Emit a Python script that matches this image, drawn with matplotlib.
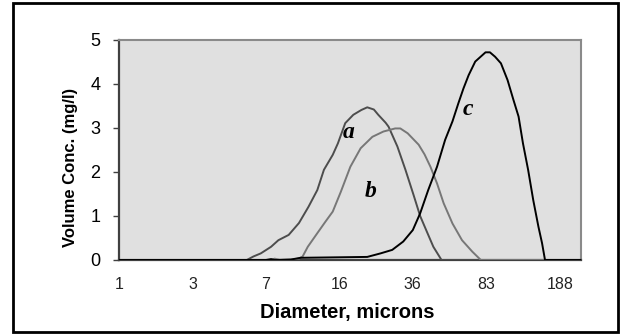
import matplotlib; matplotlib.use('Agg')
import matplotlib.pyplot as plt
from matplotlib.patches import Rectangle

# size classes: x in "label step" units (0 -> 1 micron, 6 -> 188 microns)
TICK_POS = [0, 1, 2, 3, 4, 5, 6]
TICK_LABELS = ['1', '3', '7', '16', '36', '83', '188']

# curve a
a_x = [0.00, 1.74, 1.83, 1.93, 2.07, 2.17, 2.31, 2.45, 2.58, 2.70, 2.79, 2.91,
       2.98, 3.08, 3.19, 3.30, 3.38, 3.47, 3.53, 3.63, 3.67, 3.79, 3.90, 4.01,
       4.10, 4.20, 4.28, 4.38, 4.39, 6.29]
a_y = [0.00, 0.00, 0.08, 0.15, 0.30, 0.45, 0.57, 0.84, 1.21, 1.59, 2.05, 2.39,
       2.65, 3.11, 3.30, 3.41, 3.47, 3.42, 3.30, 3.12, 3.03, 2.58, 2.05, 1.48,
       1.00, 0.61, 0.30, 0.03, 0.00, 0.00]

# curve b
b_x = [0.00, 2.07, 2.12, 2.19, 2.34, 2.45, 2.50, 2.57, 2.70, 2.81, 2.91, 3.02,
       3.15, 3.29, 3.45, 3.60, 3.76, 3.83, 3.93, 4.08, 4.16, 4.24, 4.33, 4.42,
       4.54, 4.67, 4.81, 4.92, 4.93, 6.29]
b_y = [0.00, 0.00, 0.03, 0.00, 0.01, 0.03, 0.08, 0.30, 0.61, 0.87, 1.10, 1.55,
       2.12, 2.54, 2.80, 2.92, 2.99, 2.99, 2.88, 2.62, 2.40, 2.12, 1.74, 1.29,
       0.83, 0.45, 0.19, 0.01, 0.00, 0.00]

# curve c
c_x = [0.00, 2.00, 2.07, 2.12, 2.34, 2.47, 3.38, 3.56, 3.72, 3.87, 4.00, 4.10,
       4.21, 4.33, 4.44, 4.54, 4.62, 4.69, 4.76, 4.85, 4.95, 4.99, 5.05, 5.12,
       5.20, 5.29, 5.37, 5.44, 5.50, 5.57, 5.64, 5.71, 5.76, 5.80, 6.29]
c_y = [0.00, 0.00, 0.02, 0.00, 0.01, 0.05, 0.07, 0.15, 0.23, 0.42, 0.68, 1.06,
       1.59, 2.12, 2.73, 3.15, 3.56, 3.90, 4.20, 4.51, 4.66, 4.72, 4.72, 4.62,
       4.47, 4.09, 3.64, 3.26, 2.65, 2.05, 1.36, 0.76, 0.38, 0.00, 0.00]

fig = plt.figure(figsize=(6.22, 3.34), dpi=100)
fig.patch.set_facecolor('white')
fig.patches.append(Rectangle((13/622, 1-332/334), (618-13)/622, (332-3)/334,
                             transform=fig.transFigure, fill=False,
                             edgecolor='black', lw=2))

ax = fig.add_axes([119/622, 1-260/334, 462/622, 220/334])
ax.set_facecolor('#e0e0e0')

ax.plot(a_x, a_y, color='#4d4d4d', lw=1.4, zorder=3)
ax.plot(b_x, b_y, color='#777777', lw=1.4, zorder=3)
ax.plot(c_x, c_y, color='black', lw=1.4, zorder=4)

ax.set_xlim(0, 6.29)
ax.set_ylim(0, 5)
ax.set_yticks([0, 1, 2, 3, 4, 5])
ax.set_xticks(TICK_POS)
ax.set_xticklabels(TICK_LABELS)

for sp in ['top', 'right']:
    ax.spines[sp].set_color('#8a8a8a'); ax.spines[sp].set_linewidth(1.5)
for sp in ['left', 'bottom']:
    ax.spines[sp].set_color('#404040'); ax.spines[sp].set_linewidth(1.6)

ax.tick_params(axis='y', direction='out', length=4.5, width=1, color='#404040',
               labelsize=13, pad=9)
ax.tick_params(axis='x', length=0, labelsize=11.5, pad=12, labelcolor='#222222')
for lab in ax.get_xticklabels() + ax.get_yticklabels():
    lab.set_family('Liberation Sans')

ax.set_xlabel('Diameter, microns', fontsize=14.5, fontweight='bold',
              family='Liberation Sans')
ax.xaxis.set_label_coords(0.494, -0.195)
ax.set_ylabel('Volume Conc. (mg/l)', fontsize=12, fontweight='bold',
              family='Liberation Sans')
ax.yaxis.set_label_coords(-0.089, 0.42)

TK = dict(fontsize=17, fontweight='bold', style='italic',
          family='Liberation Serif', ha='center', va='center', zorder=5)
ax.text(3.125, 2.89, 'a', **TK)
ax.text(3.42, 1.55, 'b', **TK)
ax.text(4.755, 3.41, 'c', **TK)

plt.savefig('out.png', dpi=100, facecolor=fig.get_facecolor())
plt.close()
